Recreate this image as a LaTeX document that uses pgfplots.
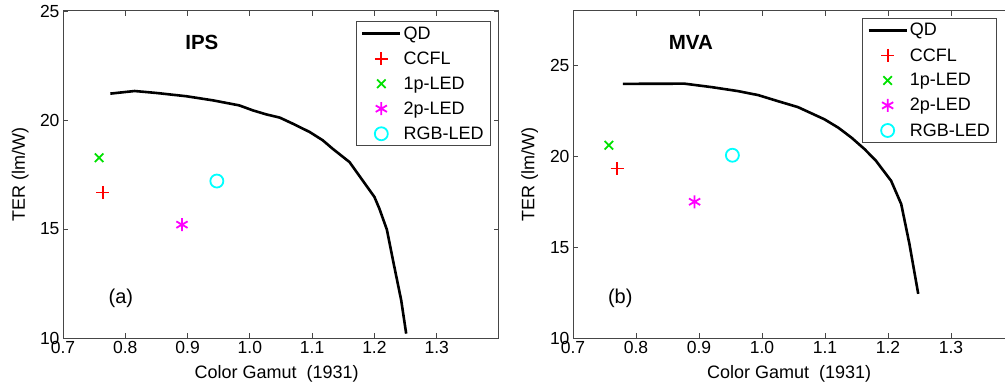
\documentclass[border=0pt]{standalone}
\usepackage{pgfplots}
\pgfplotsset{compat=1.18}
\usepackage{fontspec}
\setmainfont{Liberation Sans}
\definecolor{mgreen}{RGB}{0,225,0}
\definecolor{mred}{RGB}{255,0,0}
\definecolor{mmag}{RGB}{255,0,255}
\definecolor{mcyan}{RGB}{0,255,255}
\definecolor{axgray}{RGB}{70,70,70}
\begin{document}
\begin{tikzpicture}
\pgfplotsset{
  panel/.style={
    scale only axis, width=#1, height=327pt,
    anchor=south west,
    xmin=0.7, xmax=1.4,
    xtick={0.7,0.8,0.9,1.0,1.1,1.2,1.3},
    x tick label style={/pgf/number format/fixed,/pgf/number format/fixed zerofill,/pgf/number format/precision=1},
    /pgf/number format/assume math mode=true,
    tick label style={font=\fontsize{17.5}{20}\selectfont},
    label style={font=\fontsize{18}{21}\selectfont},
    axis line style={axgray, line width=1pt},
    every tick/.style={axgray, line width=0.8pt},
    major tick length=5pt,
    tick align=inside,
    xlabel={Color Gamut\ \ (1931)},
    ylabel={TER (lm/W)},
    xlabel style={at={(axis description cs:0.49,-0.11)}, anchor=center},
    ylabel style={at={(axis description cs:-0.098,0.5)}, anchor=center},
    clip=false,
    legend cell align=left,
    legend image code/.code={\draw[mark repeat=2,mark phase=2,##1] plot coordinates {(0pt,0pt) (19pt,0pt) (38pt,0pt)};},
    legend style={font=\fontsize{18}{21}\selectfont, draw=axgray, line width=1pt, fill=white,
      inner xsep=5pt, inner ysep=3pt, row sep=7pt,
      nodes={inner sep=2pt},
      /tikz/every even column/.append style={column sep=1pt}},
  },
  qd/.style={black, line width=2.6pt},
  ccfl/.style={only marks, mark=+, mark size=6.5pt, color=mred, mark options={mred, line width=1.8pt}},
  onep/.style={only marks, mark=x, mark size=6pt, color=mgreen, mark options={mgreen, line width=1.8pt}},
  twop/.style={only marks, mark=asterisk, mark size=6.5pt, color=mmag, mark options={mmag, line width=1.8pt}},
  rgb/.style={only marks, mark=o, mark size=6.5pt, color=mcyan, mark options={mcyan, line width=1.8pt}},
}
% ---------- (a) IPS ----------
\begin{axis}[panel=436pt, at={(63pt,51pt)},
  ymin=10, ymax=25, ytick={10,15,20,25},
  legend style={at={(0.982,0.969)}, anchor=north east}]
\addplot[qd] coordinates {
(0.776,21.21) (0.815,21.33) (0.850,21.24) (0.898,21.09) (0.941,20.90)
(0.983,20.67) (1.005,20.44) (1.026,20.26) (1.048,20.11) (1.069,19.83)
(1.096,19.45) (1.117,19.07) (1.133,18.68) (1.160,18.07) (1.181,17.23)
(1.200,16.47) (1.208,15.93) (1.220,14.97) (1.232,13.26) (1.243,11.73)
(1.251,10.20)};
\addlegendentry{QD}
\addplot[ccfl] coordinates {(0.764,16.67)};
\addlegendentry{CCFL}
\addplot[onep] coordinates {(0.758,18.27)};
\addlegendentry{1p-LED}
\addplot[twop] coordinates {(0.891,15.20)};
\addlegendentry{2p-LED}
\addplot[rgb] coordinates {(0.947,17.20)};
\addlegendentry{RGB-LED}
\node[font=\fontsize{20.5}{24}\selectfont\bfseries] at (axis cs:0.923,23.58) {IPS};
\node[font=\fontsize{20}{24}\selectfont] at (axis cs:0.793,11.83) {(a)};
\end{axis}
% ---------- (b) MVA ----------
\begin{axis}[panel=441pt, at={(573pt,51pt)},
  ymin=10, ymax=28, ytick={10,15,20,25},
  legend style={at={(0.655,0.979)}, anchor=north west}]
\addplot[qd] coordinates {
(0.779,23.99) (0.877,24.00) (0.920,23.81) (0.962,23.59) (0.994,23.37)
(1.025,23.04) (1.057,22.71) (1.099,22.04) (1.121,21.58) (1.142,21.03)
(1.163,20.39) (1.181,19.75) (1.205,18.65) (1.221,17.37) (1.234,15.18)
(1.248,12.43)};
\addlegendentry{QD}
\addplot[ccfl] coordinates {(0.770,19.33)};
\addlegendentry{CCFL}
\addplot[onep] coordinates {(0.757,20.61)};
\addlegendentry{1p-LED}
\addplot[twop] coordinates {(0.893,17.50)};
\addlegendentry{2p-LED}
\addplot[rgb] coordinates {(0.953,20.06)};
\addlegendentry{RGB-LED}
\node[font=\fontsize{20.5}{24}\selectfont\bfseries] at (axis cs:0.887,26.29) {MVA};
\node[font=\fontsize{20}{24}\selectfont] at (axis cs:0.775,12.2) {(b)};
\end{axis}
\pgfresetboundingbox
\useasboundingbox (0pt,0pt) rectangle (1005pt,389pt);
\end{tikzpicture}
\end{document}
